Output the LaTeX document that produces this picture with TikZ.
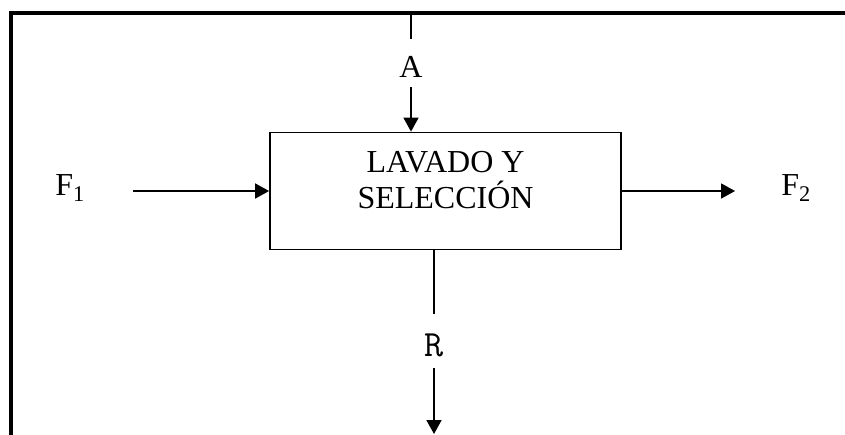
\documentclass[tikz,border=0pt]{standalone}
\usepackage{fontspec}
\setmainfont{Liberation Serif}
\usetikzlibrary{arrows.meta}
\begin{document}
\begin{tikzpicture}[x=1pt,y=-1pt,
  lbl/.style={inner sep=0pt, anchor=base, font=\fontsize{32}{36}\selectfont},
  procbox/.style={draw, line width=1.8pt, minimum width=351pt, minimum height=117pt, inner sep=0pt},
  boxtext/.style={inner sep=0pt, align=center, font=\fontsize{32}{36}\selectfont},
  flow/.style={line width=1.7pt},
  arr/.style={flow, -{Triangle[length=14pt,width=15pt]}},
  frame/.style={line width=3.8pt}]
\useasboundingbox (0,0) rectangle (845,434);
% frame
\coordinate (fbl) at (11,436);
\coordinate (ftl) at (11,13);
\coordinate (ftr) at (846,13);
\draw[frame] (fbl) -- (ftl) -- (ftr);
% process box
\node[procbox] (box) at (445.5,191) {};
\node[boxtext, yshift=10.5pt] (boxlbl) at (box.center) {LAVADO Y\\SELECCIÓN};
% labels
\node[lbl] (A) at (411,77) {A};
\node[lbl] (F1) at (70,195) {F\textsubscript{1}};
\node[lbl] (F2) at (796,195) {F\textsubscript{2}};
\node[lbl, font=\ttfamily\fontsize{37}{40}\selectfont] (R) at (434,356) {R};
\coordinate (topA) at (411,13);
\coordinate (botR) at (434,434);
% connectors
\draw[flow, shorten >=17pt] (topA) -- (A.north);
\draw[arr, shorten <=10pt] (A.south) -- (A.south |- box.north);
\draw[arr, shorten <=48pt] (F1.east |- box.west) -- (box.west);
\draw[arr, shorten >=46pt] (box.east) -- (F2.west |- box.east);
\draw[flow, shorten >=19pt] (R.north |- box.south) -- (R.north);
\draw[arr, shorten <=11pt] (R.south) -- (botR);
\end{tikzpicture}
\end{document}
